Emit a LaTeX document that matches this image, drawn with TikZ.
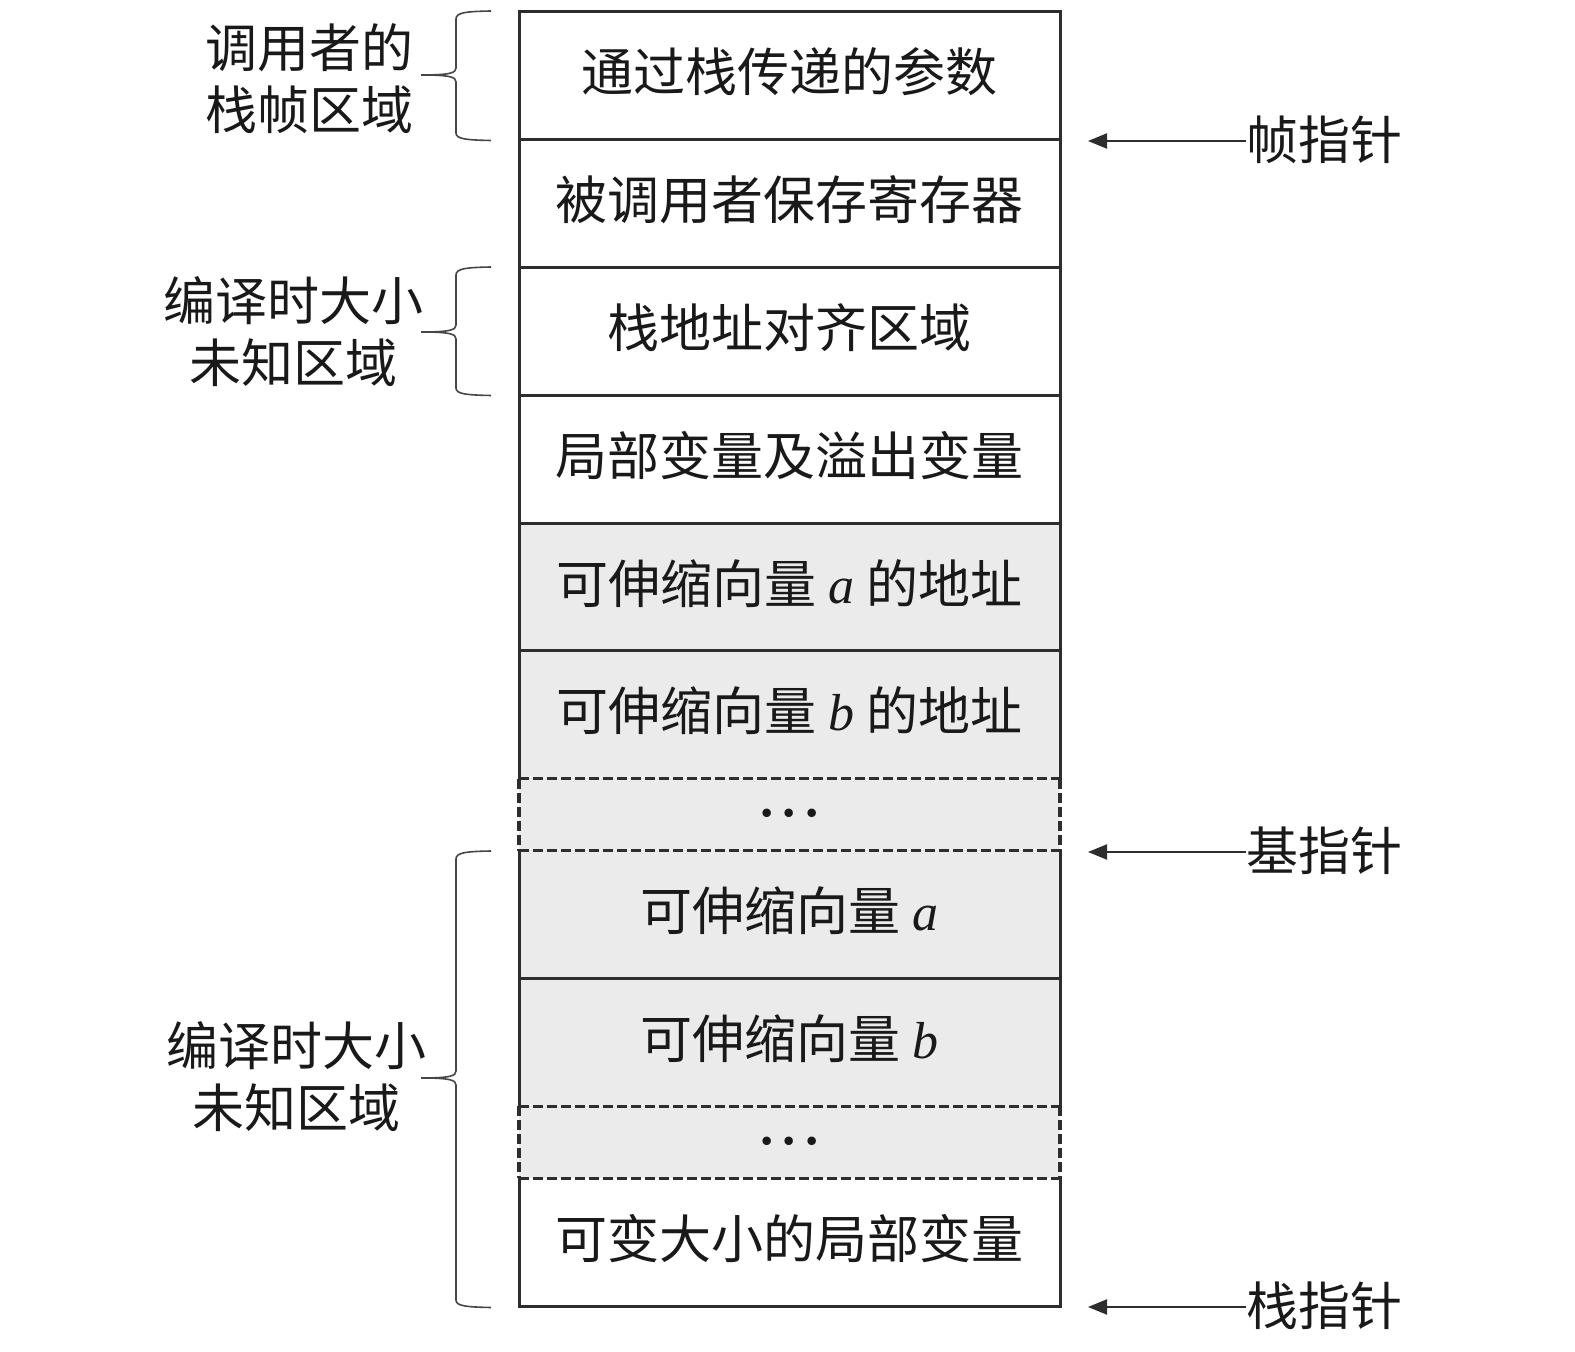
\documentclass[tikz,border=0pt]{standalone}
\usepackage{fontspec}
\setmainfont{Noto Sans CJK SC}
\newfontfamily\tms{Liberation Serif}
\usetikzlibrary{arrows.meta}
\definecolor{linec}{RGB}{45,45,45}
\definecolor{fillg}{RGB}{235,235,235}
\definecolor{textc}{RGB}{25,25,25}
\definecolor{bracec}{RGB}{70,70,70}
\newcommand\va[1]{{\tms\itshape #1}}
\newcommand\up[1]{\raisebox{-8pt}[0pt][0pt]{#1}}
\newcommand\mydots{\raisebox{-8pt}[0pt][0pt]{\tms\bfseries ·\kern2.6pt·\kern2.6pt·}}
\begin{document}
\begin{tikzpicture}[x=0.5pt,y=-0.5pt,
  every node/.style={font=\fontsize{26}{31}\selectfont, text=textc},
  row/.style={minimum width=270.5pt, minimum height=63.9pt, inner sep=0pt, outer sep=0pt, anchor=north west, draw=none},
  dotrow/.style={row, minimum height=36pt, fill=fillg},
  grayrow/.style={row, fill=fillg},
  whiterow/.style={row, fill=white},
  solidl/.style={draw=linec, line width=1.5pt, line join=miter},
  dashl/.style={draw=linec, line width=1.6pt, dash pattern=on 5pt off 2pt},
  bracel/.style={draw=bracec, line width=0.8pt},
  lbl/.style={align=center, inner sep=0pt},
  ptr/.style={anchor=west, inner sep=0pt},
  arr/.style={draw=linec, line width=1pt, -{Triangle[length=9.5pt,width=7.5pt]}}
]
\useasboundingbox (0,0) rectangle (1575,1352);

% rows
\node[whiterow] (r1) at (519,12) {\up{通过栈传递的参数}};
\node[whiterow] (r2) at (r1.south west) {\up{被调用者保存寄存器}};
\node[whiterow] (r3) at (r2.south west) {\up{栈地址对齐区域}};
\node[whiterow] (r4) at (r3.south west) {\up{局部变量及溢出变量}};
\node[grayrow] (r5) at (r4.south west) {\up{可伸缩向量 \va{a} 的地址}};
\node[grayrow] (r6) at (r5.south west) {\up{可伸缩向量 \va{b} 的地址}};
\node[dotrow] (r7) at (r6.south west) {\mydots};
\node[grayrow] (r8) at (r7.south west) {\up{可伸缩向量 \va{a}}};
\node[grayrow] (r9) at (r8.south west) {\up{可伸缩向量 \va{b}}};
\node[dotrow] (r10) at (r9.south west) {\mydots};
\node[whiterow] (r11) at (r10.south west) {\up{可变大小的局部变量}};

% solid borders
\draw[solidl] (r6.south west) -- (r1.north west) -- (r1.north east) -- (r6.south east);
\draw[solidl] (r8.north west) -- (r9.south west);
\draw[solidl] (r8.north east) -- (r9.south east);
\draw[solidl] (r11.north west) -- (r11.south west) -- (r11.south east) -- (r11.north east);
\foreach \r in {r1,r2,r3,r4,r5,r8}
  \draw[solidl] (\r.south west) -- (\r.south east);
% dashed borders
\foreach \r in {r7,r10}{
  \draw[dashl] (\r.north west) -- (\r.north east);
  \draw[dashl] (\r.south west) -- (\r.south east);
  \draw[dashl] (\r.north west) -- (\r.south west);
  \draw[dashl] (\r.north east) -- (\r.south east);
}

% left labels
\node[lbl] (L1) at (309,79) {调用者的\\栈帧区域};
\node[lbl] (L2) at (293,332) {编译时大小\\未知区域};
\node[lbl] (L3) at (296,1077) {编译时大小\\未知区域};

% braces
\draw[bracel] (491,11) .. controls (466,11.5) and (456,12.5) .. (456,19) -- (456,68)
  .. controls (456,73) and (450,75) .. (421,75)
  .. controls (450,75) and (456,77) .. (456,82) -- (456,133)
  .. controls (456,139) and (466,140) .. (491,140.5);
\draw[bracel] (491,267) .. controls (466,267.5) and (456,268.5) .. (456,275) -- (456,325)
  .. controls (456,330) and (450,332) .. (421,332)
  .. controls (450,332) and (456,334) .. (456,339) -- (456,388)
  .. controls (456,394) and (466,395) .. (491,395.5);
\draw[bracel] (491,851) .. controls (466,851.5) and (456,852.5) .. (456,859) -- (456,1071)
  .. controls (456,1076) and (450,1078) .. (421,1078)
  .. controls (450,1078) and (456,1080) .. (456,1085) -- (456,1300)
  .. controls (456,1306) and (466,1307) .. (491,1307.5);

% pointers
\node[ptr] (fp) at (1246,140) {帧指针};
\node[ptr] (bp) at (1246,851) {基指针};
\node[ptr] (sp) at (1246,1306) {栈指针};
\coordinate (fpt) at (1088,141);
\coordinate (bpt) at (1088,852);
\coordinate (spt) at (1088,1307);
\draw[arr] (fp.west |- fpt) -- (fpt);
\draw[arr] (bp.west |- bpt) -- (bpt);
\draw[arr] (sp.west |- spt) -- (spt);
\end{tikzpicture}
\end{document}
